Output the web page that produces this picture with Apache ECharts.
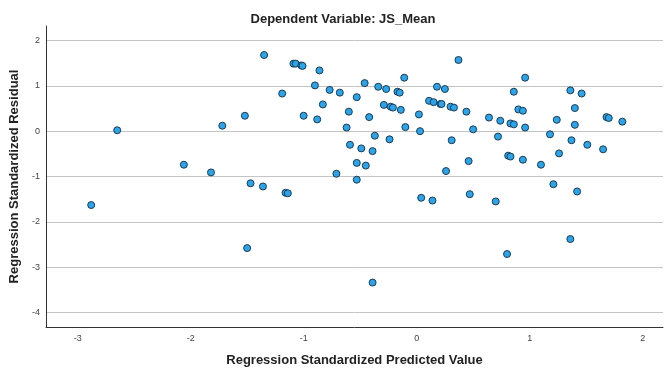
<!DOCTYPE html>
<html>
<head>
<meta charset="utf-8">
<script src="https://cdn.jsdelivr.net/npm/echarts@6/dist/echarts.min.js"></script>
<style>
  html, body { margin: 0; padding: 0; background: #fff; }
  #chart { width: 667px; height: 374px; }
</style>
</head>
<body>
<div id="chart"></div>
<script>
// standardized predicted values (x) and standardized residuals (y)
const predicted = [
  -2.88, -2.65, -2.06, -1.82, -1.72, -1.52, -1.50, -1.47, -1.36, -1.35,
  -1.19, -1.16, -1.14, -1.09, -1.07, -1.02, -1.01, -1.00, -0.90, -0.88,
  -0.86, -0.83, -0.77, -0.71, -0.68, -0.62, -0.60, -0.59, -0.53, -0.53,
  -0.53, -0.49, -0.46, -0.45, -0.42, -0.39, -0.39, -0.37, -0.34, -0.29,
  -0.27, -0.24, -0.23, -0.21, -0.17, -0.15, -0.14, -0.11, -0.10, 0.02,
  0.03, 0.04, 0.11, 0.14, 0.15, 0.18, 0.21, 0.22, 0.25, 0.26,
  0.30, 0.31, 0.33, 0.37, 0.44, 0.46, 0.47, 0.50, 0.64, 0.70,
  0.72, 0.74, 0.80, 0.81, 0.83, 0.83, 0.86, 0.86, 0.90, 0.94,
  0.94, 0.96, 0.96, 1.10, 1.18, 1.21, 1.24, 1.26, 1.36, 1.36,
  1.37, 1.40, 1.40, 1.42, 1.46, 1.51, 1.65, 1.68, 1.70, 1.82
];
const residual = [
  -1.63, 0.02, -0.74, -0.91, 0.12, 0.34, -2.58, -1.15, -1.22, 1.68,
  0.83, -1.36, -1.37, 1.49, 1.49, 1.45, 1.44, 0.34, 1.01, 0.26,
  1.34, 0.59, 0.91, -0.94, 0.85, 0.08, 0.43, -0.30, 0.75, -0.70,
  -1.07, -0.38, 1.06, -0.76, 0.31, -0.44, -3.34, -0.10, 0.98, 0.58,
  0.93, -0.18, 0.54, 0.52, 0.87, 0.85, 0.47, 1.18, 0.09, 0.37,
  0.00, -1.47, 0.67, -1.53, 0.64, 0.98, 0.60, 0.60, 0.93, -0.88,
  0.54, -0.20, 0.52, 1.57, 0.43, -0.66, -1.39, 0.04, 0.30, -1.55,
  -0.12, 0.23, -2.71, -0.54, 0.17, -0.56, 0.87, 0.15, 0.48, 0.45,
  -0.63, 1.18, 0.08, -0.74, -0.07, -1.17, 0.25, -0.49, 0.90, -2.38,
  -0.20, 0.51, 0.14, -1.33, 0.83, -0.30, -0.40, 0.31, 0.29, 0.21
];
const xTicks = [-3, -2, -1, 0, 1, 2];
const yTicks = [-4, -3, -2, -1, 0, 1, 2];
const points = predicted.map((x, i) => [x, residual[i]]);

const chart = echarts.init(document.getElementById('chart'));

const tickStyle = { fontFamily: 'Liberation Sans', fontSize: 9, color: '#444' };
const nameStyle = { fontFamily: 'Liberation Sans', fontSize: 13, fontWeight: 'bold', color: '#222' };

chart.setOption({
  animation: false,
  title: {
    text: 'Dependent Variable: JS_Mean',
    left: 338, top: 8, textAlign: 'center',
    textStyle: { fontFamily: 'Liberation Sans', fontSize: 13, fontWeight: 'bold', color: '#222' }
  },
  grid: { left: 44, right: 4, top: 26, bottom: 47 },
  xAxis: {
    type: 'value',
    min: -3.28, max: 2.18,
    name: 'Regression Standardized Predicted Value',
    nameLocation: 'middle', nameGap: 27,
    nameTextStyle: nameStyle,
    axisLine: { show: true, onZero: false, lineStyle: { color: '#333', width: 1 } },
    axisTick: { show: false },
    splitLine: { show: false },
    axisLabel: {
      ...tickStyle, margin: 7,
      customValues: xTicks,
      formatter: v => String(Math.round(v))
    }
  },
  yAxis: {
    type: 'value',
    min: -4.32, max: 2.32,
    name: 'Regression Standardized Residual',
    nameLocation: 'middle', nameGap: 25,
    nameTextStyle: nameStyle,
    axisLine: { show: true, onZero: false, lineStyle: { color: '#333', width: 1 } },
    axisTick: { show: false, customValues: yTicks },
    axisLabel: {
      ...tickStyle, margin: 6,
      customValues: yTicks,
      formatter: v => String(Math.round(v))
    },
    splitLine: {
      show: true,
      lineStyle: { color: '#c4c4c4', width: 1 }
    }
  },
  series: [{
    type: 'scatter',
    data: points,
    symbol: 'circle',
    symbolSize: 7,
    itemStyle: { color: '#2ba4ea', borderColor: '#1c3a52', borderWidth: 1, opacity: 1 }
  }]
});
</script>
</body>
</html>
